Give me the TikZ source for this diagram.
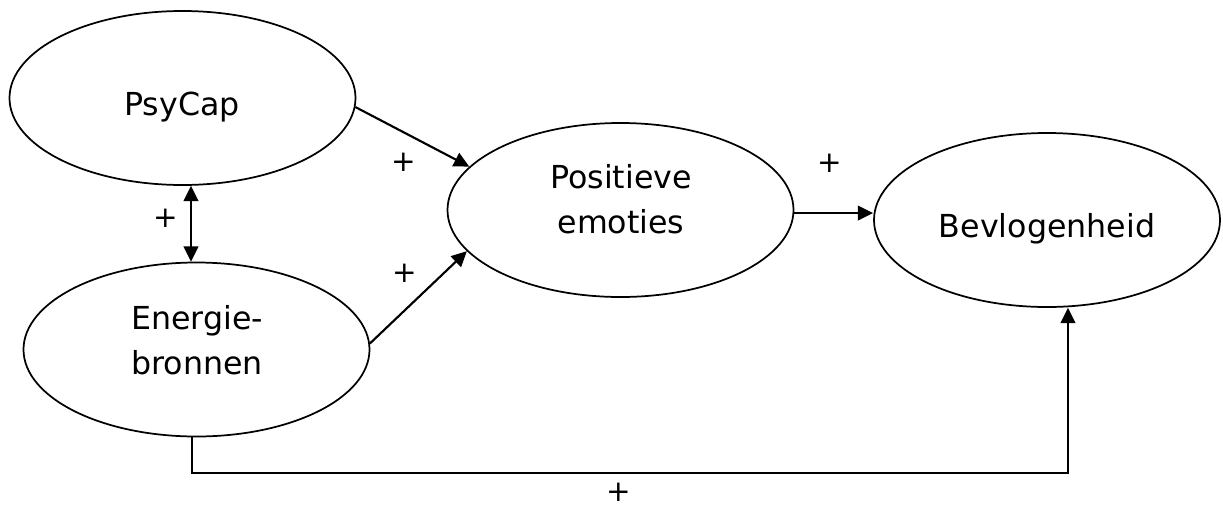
\documentclass[tikz,border=0pt]{standalone}
\usepackage{fontspec}
\setmainfont{DejaVu Sans}
\usetikzlibrary{shapes.geometric,arrows.meta,calc}

\tikzset{
  construct/.style={ellipse, draw, line width=1.3pt, minimum width=259.5pt, minimum height=130.5pt, inner sep=0pt},
  txt/.style={align=center, inner sep=0pt, text height=17.3pt, text depth=0pt,
              font=\fontsize{23.75pt}{33.75pt}\selectfont},
  txttwo/.style={txt, text height=51.05pt},
  sign/.style={inner sep=0pt, text height=15pt, text depth=0pt, font=\fontsize{22pt}{26pt}\selectfont},
  arr/.style={line width=1.6pt, -{Triangle[length=11.5pt,width=11pt]}},
  darr/.style={line width=1.6pt, {Triangle[length=11.5pt,width=11pt]}-{Triangle[length=11.5pt,width=11pt]}},
}

\begin{document}
\begin{tikzpicture}[x=0.75pt,y=-0.75pt]
  \useasboundingbox (0,0) rectangle (1223,504);

  % constructs
  \node[construct] (psy) at (182.5,98)   {};
  \node[construct] (en)  at (196.5,349.5) {};
  \node[construct] (pos) at (620.5,210)  {};
  \node[construct] (bev) at (1047,220)   {};

  % construct names
  \node[txt]    (psyT) at (182,104)    {PsyCap};
  \node[txttwo] (enT)  at (197,340)    {Energie-\\bronnen};
  \node[txttwo] (posT) at (621,199.5)  {Positieve\\emoties};
  \node[txt]    (bevT) at (1047,225.5) {Bevlogenheid};

  % paths
  \draw[arr] (psy.-3) -- (pos.164);
  \draw[arr] (en.2) -- (pos.195);
  \draw[arr] (pos.-1.6) -- (pos.-1.6 -| bev.west);
  \draw[darr] ($(psy.south)+(8.5,0)$) -- ($(en.north)+(-5.5,0)$);
  \draw[arr] ($(en.south)+(-4.5,0)$) -- ++(0,35.5) -| ($(bev.south)+(21,0)$);

  % signs of the effects
  \node[sign] (s1) at (403.5,161.5) {+};
  \node[sign] (s2) at (166,217)     {+};
  \node[sign] (s3) at (405,272)     {+};
  \node[sign] (s4) at (830,162)     {+};
  \node[sign] (s5) at (619,491)     {+};
\end{tikzpicture}
\end{document}
